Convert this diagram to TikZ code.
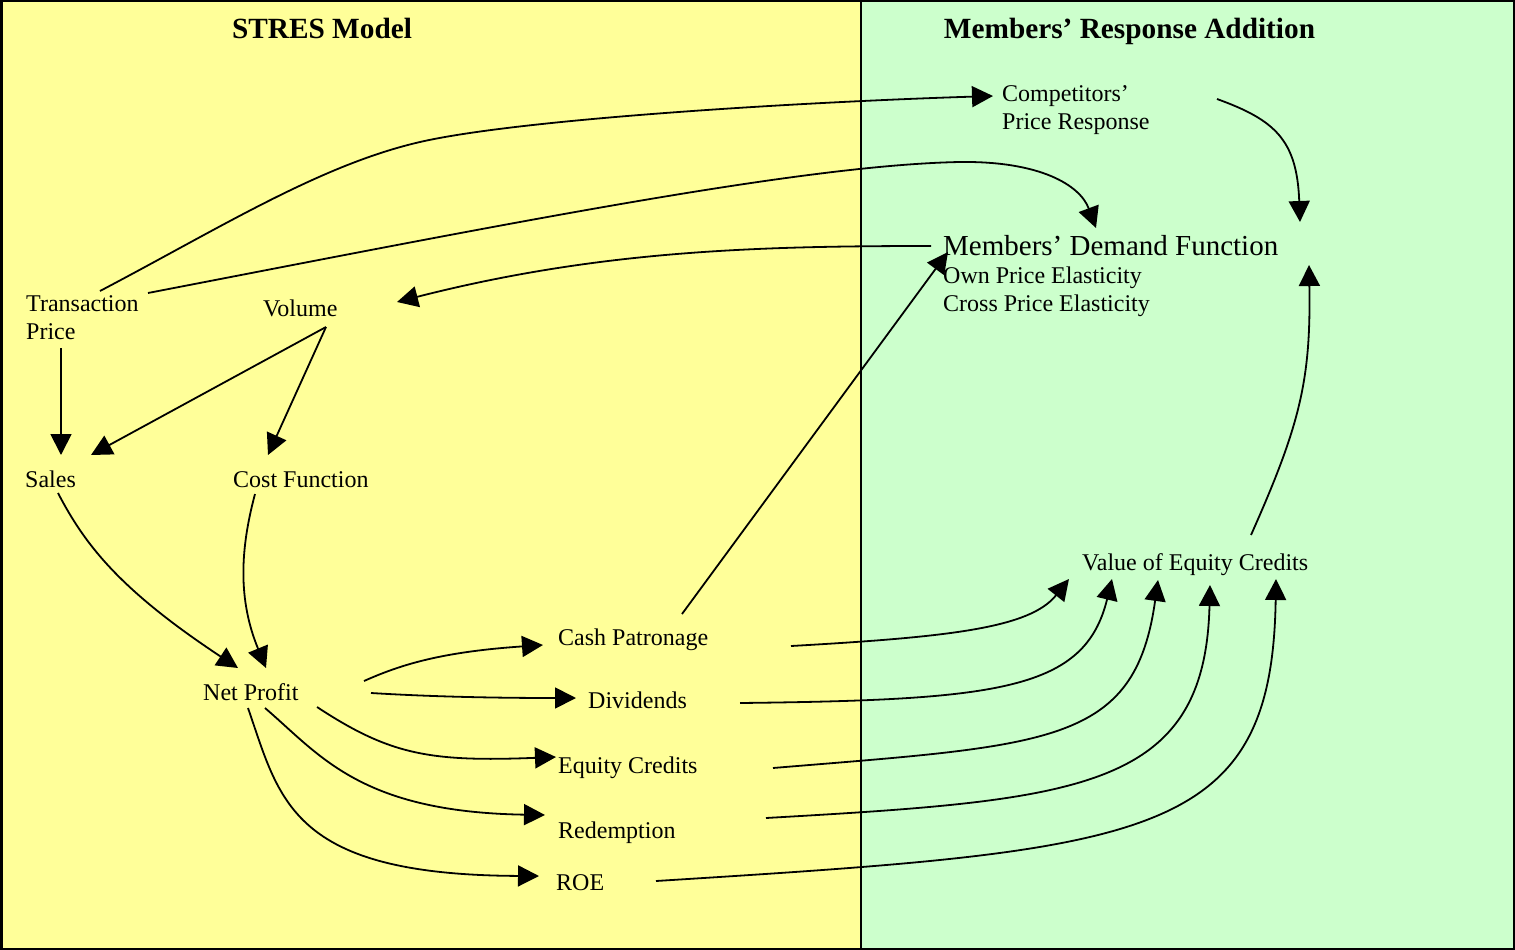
\documentclass[tikz,border=0pt]{standalone}
\usepackage{fontspec}
\setmainfont{Liberation Serif}
\usetikzlibrary{arrows.meta}
\definecolor{leftbg}{HTML}{FFFF99}
\definecolor{rightbg}{HTML}{CCFFCC}
\tikzset{
  lbl/.style={anchor=base west, inner sep=0pt, font=\fontsize{24}{28}\selectfont, align=left},
  ttl/.style={anchor=base, inner sep=0pt, font=\fontsize{29.3}{34}\selectfont\bfseries},
  conn/.style={line width=1.8pt, -{Triangle[length=21pt,width=21pt]}},
  frame/.style={line width=2.5pt},
}
\begin{document}
\begin{tikzpicture}[x=1pt,y=-1pt]
\useasboundingbox (0,0) rectangle (1515,950);
% panels
\fill[leftbg] (0,0) rectangle (861,950);
\fill[rightbg] (861,0) rectangle (1515,950);
\draw[frame] (1.25,1.25) rectangle (1513.75,948.75);
\draw[line width=2pt] (861,0) -- (861,950);

% titles
\node[ttl] (t1) at (322,39) {STRES Model};
\node[ttl] (t2) at (1129.5,39) {Members’ Response Addition};

% labels
\node[lbl] (tp) at (26,339) {Transaction\\Price};
\node[lbl] (vol) at (263,316) {Volume};
\node[lbl] (sales) at (25,487) {Sales};
\node[lbl] (cost) at (233,487) {Cost Function};
\node[lbl] (np) at (203,700) {Net Profit};
\node[lbl] (cash) at (558,645) {Cash Patronage};
\node[lbl] (div) at (588,708) {Dividends};
\node[lbl] (eq) at (558,773) {Equity Credits};
\node[lbl] (red) at (558,838) {Redemption};
\node[lbl] (roe) at (556,890) {ROE};
\node[lbl] (comp) at (1002,129) {Competitors’\\Price Response};
\node[lbl] (dem) at (943,311) {{\fontsize{29}{34}\selectfont Members’ Demand Function}\\Own Price Elasticity\\Cross Price Elasticity};
\node[lbl] (veq) at (1082,570) {Value of Equity Credits};

% connectors
\draw[conn] ([shift={(74,-48)}]tp.base west) .. controls (220,228) and (320,165) .. (420,142)
  .. controls (520,119) and (800,102) .. ([shift={(-9,-33)}]comp.base west);
\draw[conn] ([shift={(122,-46)}]tp.base west) .. controls (500,225) and (800,165) .. (960,162)
  .. controls (1040,161) and (1080,185) .. ([shift={(153,-83)}]dem.base west);
\draw[conn] ([shift={(-12,-65)}]dem.base west) .. controls (760,246) and (600,250) .. ([shift={(134,-14)}]vol.base west);
\draw[conn] ([shift={(35,9)}]tp.base west) -- ([shift={(36,-32)}]sales.base west);
\draw[conn] ([shift={(63,11)}]vol.base west) -- ([shift={(66,-32)}]sales.base west);
\draw[conn] ([shift={(63,11)}]vol.base west) -- ([shift={(35,-32)}]cost.base west);
\draw[conn] ([shift={(33,6)}]sales.base west) .. controls (85,545) and (120,590) .. ([shift={(35,-32)}]np.base west);
\draw[conn] ([shift={(22,7)}]cost.base west) .. controls (240,550) and (238,600) .. ([shift={(63,-32)}]np.base west);

\draw[conn] ([shift={(161,-19)}]np.base west) .. controls (400,665) and (440,652) .. ([shift={(-15,0)}]cash.base west);
\draw[conn] ([shift={(168,-7)}]np.base west) .. controls (420,696) and (480,698) .. ([shift={(-12,-10)}]div.base west);
\draw[conn] ([shift={(114,7)}]np.base west) .. controls (390,755) and (430,762) .. ([shift={(-2,-16)}]eq.base west);
\draw[conn] ([shift={(62,8)}]np.base west) .. controls (320,755) and (360,812) .. ([shift={(-13,-23)}]red.base west);
\draw[conn] ([shift={(45,8)}]np.base west) .. controls (280,800) and (290,875) .. ([shift={(-17,-14)}]roe.base west);

\draw[conn] ([shift={(124,-31)}]cash.base west) -- ([shift={(5,-59)}]dem.base west);
\draw[conn] ([shift={(215,-30)}]comp.base west) .. controls (1275,120) and (1297,140) .. ([shift={(357,-89)}]dem.base west);
\draw[conn] ([shift={(169,-35)}]veq.base west) .. controls (1300,425) and (1311,380) .. ([shift={(366,-46)}]dem.base west);

\draw[conn] ([shift={(233,1)}]cash.base west) .. controls (950,637) and (1030,628) .. ([shift={(-13,9)}]veq.base west);
\draw[conn] ([shift={(152,-5)}]div.base west) .. controls (1000,700) and (1085,690) .. ([shift={(30,9)}]veq.base west);
\draw[conn] ([shift={(215,-5)}]eq.base west) .. controls (1050,745) and (1135,745) .. ([shift={(76,10)}]veq.base west);
\draw[conn] ([shift={(208,-20)}]red.base west) .. controls (1080,800) and (1205,790) .. ([shift={(128,15)}]veq.base west);
\draw[conn] ([shift={(100,-9)}]roe.base west) .. controls (1150,850) and (1272,840) .. ([shift={(194,9)}]veq.base west);
\end{tikzpicture}
\end{document}
